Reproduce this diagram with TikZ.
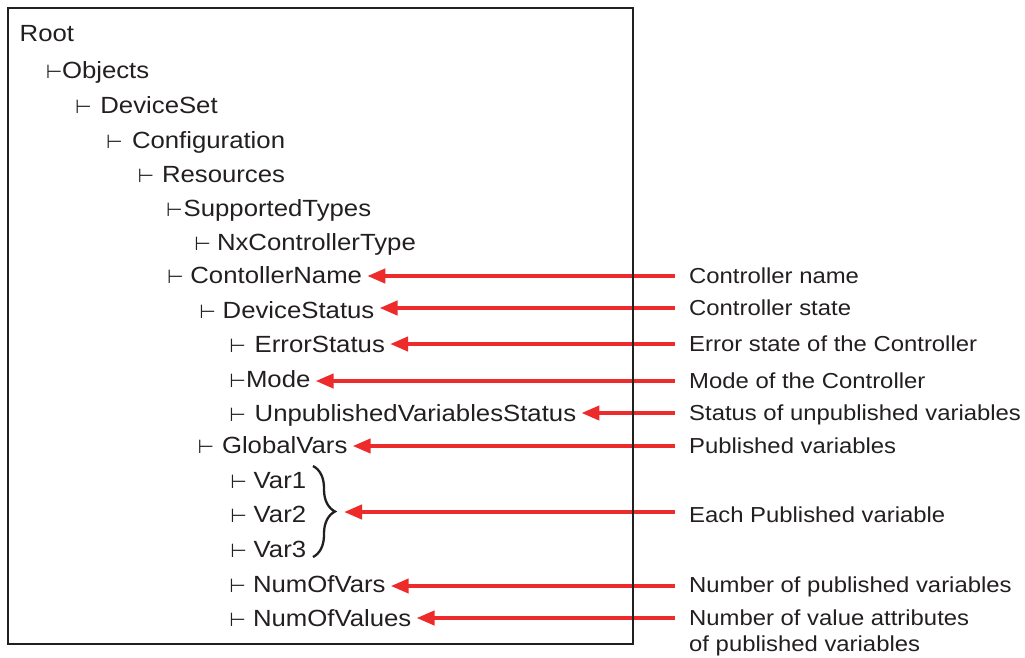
\documentclass[tikz,border=0pt]{standalone}
\usepackage{fontspec}
\setmainfont{Liberation Sans}[FakeStretch=1.1]
\newfontfamily\symf{DejaVu Sans}
\usetikzlibrary{arrows.meta,decorations.pathreplacing}
\definecolor{ink}{HTML}{231F20}
\definecolor{arrred}{HTML}{EE2B2B}
\newcommand\vd{{\symf\fontsize{19}{19}\selectfont ⊢}}
\newcommand\tn[5]{\node[tree] (#1) at (#2,#4) {\makebox[\dimexpr #3pt - #2pt - 1.5pt\relax][l]{\hspace{-2.5pt}\vd}#5};}
\begin{document}
\begin{tikzpicture}[x=1pt,y=-1pt,
 tree/.style={anchor=base west,inner sep=0pt,font=\fontsize{23.4}{28}\selectfont,text=ink},
 lab/.style={anchor=west,inner sep=0pt,font=\fontsize{21.7}{26}\selectfont,text=ink,text height=15.5pt,text depth=0pt},
 arr/.style={draw=arrred,line width=4pt,-{Triangle[length=18pt,width=14pt]},shorten <=14pt,shorten >=5pt}]
\useasboundingbox (0,0) rectangle (1025,657);
\node[tree] (root) at (19.5,41) {Root};
\tn{obj}{48.3}{63.3}{78}{Objects}
\tn{dset}{77.3}{101.7}{113}{DeviceSet}
\tn{conf}{108.3}{133.3}{148}{Configuration}
\tn{res}{140}{163.3}{182}{Resources}
\tn{sup}{168.3}{185}{216}{SupportedTypes}
\tn{nxc}{196.7}{218.3}{250}{NxControllerType}
\tn{cname}{169.3}{191.7}{283}{ContollerName}
\tn{dstat}{201.7}{224}{318}{DeviceStatus}
\tn{err}{231.7}{256}{352}{ErrorStatus}
\tn{mode}{231.7}{247.3}{387}{Mode}
\tn{unp}{231.7}{256}{421}{UnpublishedVariablesStatus}
\tn{gv}{200}{223.3}{453}{GlobalVars}
\tn{v1}{232.7}{255}{488}{Var1}
\tn{v2}{232.7}{255}{522}{Var2}
\tn{v3}{232.7}{255}{557}{Var3}
\tn{nvars}{231.7}{254.3}{592}{NumOfVars}
\tn{nvals}{231.7}{254.3}{626}{NumOfValues}
\node[lab] (l1) at (689,276) {Controller name};
\node[lab] (l2) at (689,308) {Controller state};
\node[lab] (l3) at (689,344) {Error state of the Controller};
\node[lab] (l4) at (689,381) {Mode of the Controller};
\node[lab] (l5) at (689,413) {Status of unpublished variables};
\node[lab] (l6) at (689,446) {Published variables};
\node[lab] (l7) at (689,515) {Each Published variable};
\node[lab] (l8) at (689,585) {Number of published variables};
\node[lab] (l9) at (689,618) {Number of value attributes};
\node[lab] (l9b) at (689,644) {of published variables};
\draw[ink,line width=2.3pt,decorate,decoration={brace,amplitude=22pt,aspect=0.5}] (313,466) -- (313,557);
\coordinate (bt) at (344,512);
\draw[arr] (l1.west) -- (l1.west -| cname.east);
\draw[arr] (l2.west) -- (l2.west -| dstat.east);
\draw[arr] (l3.west) -- (l3.west -| err.east);
\draw[arr] (l4.west) -- (l4.west -| mode.east);
\draw[arr] (l5.west) -- (l5.west -| unp.east);
\draw[arr] (l6.west) -- (l6.west -| gv.east);
\draw[arr,shorten >=0pt] (l7.west |- bt) -- (bt);
\draw[arr] ([yshift=-1pt]l8.west) -- ([yshift=-1pt]l8.west -| nvars.east);
\draw[arr] (l9.west) -- (l9.west -| nvals.east);
\draw[ink,line width=2pt] (8,8) rectangle (633,644);
\end{tikzpicture}
\end{document}
